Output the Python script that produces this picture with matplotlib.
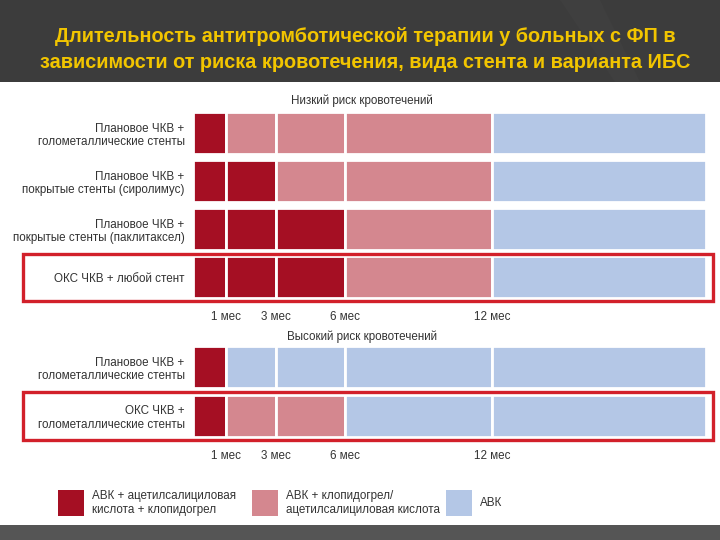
import numpy as np
import matplotlib
matplotlib.use('Agg')
import matplotlib.pyplot as plt
from matplotlib.patches import Rectangle, Polygon

plt.rcParams['font.family'] = ['Liberation Sans', 'DejaVu Sans']

# данные
title_lines = ['Длительность антитромботической терапии у больных с ФП в',
               'зависимости от риска кровотечения, вида стента и варианта ИБС']
edges_months = [0, 1, 3, 6, 12, 21]          # 21 = дальше 12 мес
tick_months = [1, 3, 6, 12]
tick_labels = ['1 мес', '3 мес', '6 мес', '12 мес']
axis_px = [0, 33, 83, 152, 299, 513]           # неравномерная шкала оригинала

low_title = 'Низкий риск кровотечений'
low_rows = ['Плановое ЧКВ +\nголометаллические стенты',
            'Плановое ЧКВ +\nпокрытые стенты (сиролимус)',
            'Плановое ЧКВ +\nпокрытые стенты (паклитаксел)',
            'ОКС ЧКВ + любой стент']
low_regimen = [[0, 1, 1, 1, 2],
               [0, 0, 1, 1, 2],
               [0, 0, 0, 1, 2],
               [0, 0, 0, 1, 2]]

high_title = 'Высокий риск кровотечений'
high_rows = ['Плановое ЧКВ +\nголометаллические стенты',
             'ОКС ЧКВ +\nголометаллические стенты']
high_regimen = [[0, 2, 2, 2, 2],
                [0, 1, 1, 2, 2]]

regimen_colors = ['#a50f23', '#d4878f', '#b4c7e6']
regimen_labels = ['АВК + ацетилсалициловая\nкислота + клопидогрел',
                  'АВК + клопидогрел/\nацетилсалициловая кислота',
                  'АВК']

W, H = 720, 540
FS = 8.4


def fx(x):
    return x / W


def fy(y):
    return 1 - y / H


fig = plt.figure(figsize=(7.2, 5.4), dpi=100)
fig.patch.set_facecolor('white')

# шапка
fig.patches.append(Rectangle((0, fy(82)), 1, 82 / H, transform=fig.transFigure,
                             facecolor='#3c3c3c', edgecolor='none', zorder=0))
fig.patches.append(Polygon([(fx(560), fy(0)), (fx(600), fy(0)), (fx(640), fy(82)), (fx(615), fy(82))],
                           closed=True, transform=fig.transFigure,
                           facecolor='#3f3f3f', edgecolor='none', zorder=0))
fig.patches.append(Rectangle((0, 0), 1, 15 / H, transform=fig.transFigure,
                             facecolor='#555555', edgecolor='none', zorder=0))
fig.text(fx(365), fy(37), title_lines[0], ha='center', va='center',
         fontsize=14.3, fontweight='bold', color='#f2c500')
fig.text(fx(365), fy(62), title_lines[1], ha='center', va='center',
         fontsize=14.3, fontweight='bold', color='#f2c500')

fwd = lambda m: np.interp(m, edges_months, axis_px)
inv = lambda p: np.interp(p, axis_px, edges_months)


def draw_panel(ax, rows, regimen, title, title_y, bar_h):
    for i, segs in enumerate(regimen):
        for j, code in enumerate(segs):
            ax.barh(i, edges_months[j + 1] - edges_months[j], left=edges_months[j],
                    height=bar_h, color=regimen_colors[code],
                    edgecolor='white', linewidth=2)
    ax.set_xscale('function', functions=(fwd, inv))
    ax.set_xlim(edges_months[0], edges_months[-1])
    ax.set_ylim(len(rows) - 0.5, -0.5)
    ax.set_yticks(range(len(rows)))
    ax.set_yticklabels(rows, fontsize=FS, color='#333333', linespacing=1.2)
    ax.set_xticks(tick_months)
    ax.set_xticklabels(tick_labels, fontsize=FS, color='#333333')
    ax.xaxis.set_minor_locator(plt.NullLocator())
    ax.tick_params(axis='y', length=0, pad=6)
    ax.tick_params(axis='x', length=0, pad=7)
    for s in ax.spines.values():
        s.set_visible(False)
    fig.text(fx(362), fy(title_y), title, ha='center', va='center',
             fontsize=FS, color='#333333')


ax1 = fig.add_axes([fx(193), fy(301), 513 / W, 192 / H])
draw_panel(ax1, low_rows, low_regimen, low_title, 101, 0.86)
ax2 = fig.add_axes([fx(193), fy(440.5), 513 / W, 98 / H])
draw_panel(ax2, high_rows, high_regimen, high_title, 337, 0.84)

# красные рамки
for y0, y1 in [(254, 301), (392, 440)]:
    fig.patches.append(Rectangle((fx(23), fy(y1)), (713 - 23) / W, (y1 - y0) / H,
                                 transform=fig.transFigure, fill=False,
                                 edgecolor='#d2202a', linewidth=2.4, zorder=5))

# легенда
for k, (lab, col) in enumerate(zip(regimen_labels, regimen_colors)):
    x0 = 58 + 194 * k
    fig.patches.append(Rectangle((fx(x0), fy(516)), 26 / W, 26 / H,
                                 transform=fig.transFigure, facecolor=col, edgecolor='none'))
    fig.text(fx(x0 + 34), fy(503), lab, ha='left', va='center', fontsize=FS,
             color='#333333', linespacing=1.2)

plt.savefig('out.png', dpi=100)
